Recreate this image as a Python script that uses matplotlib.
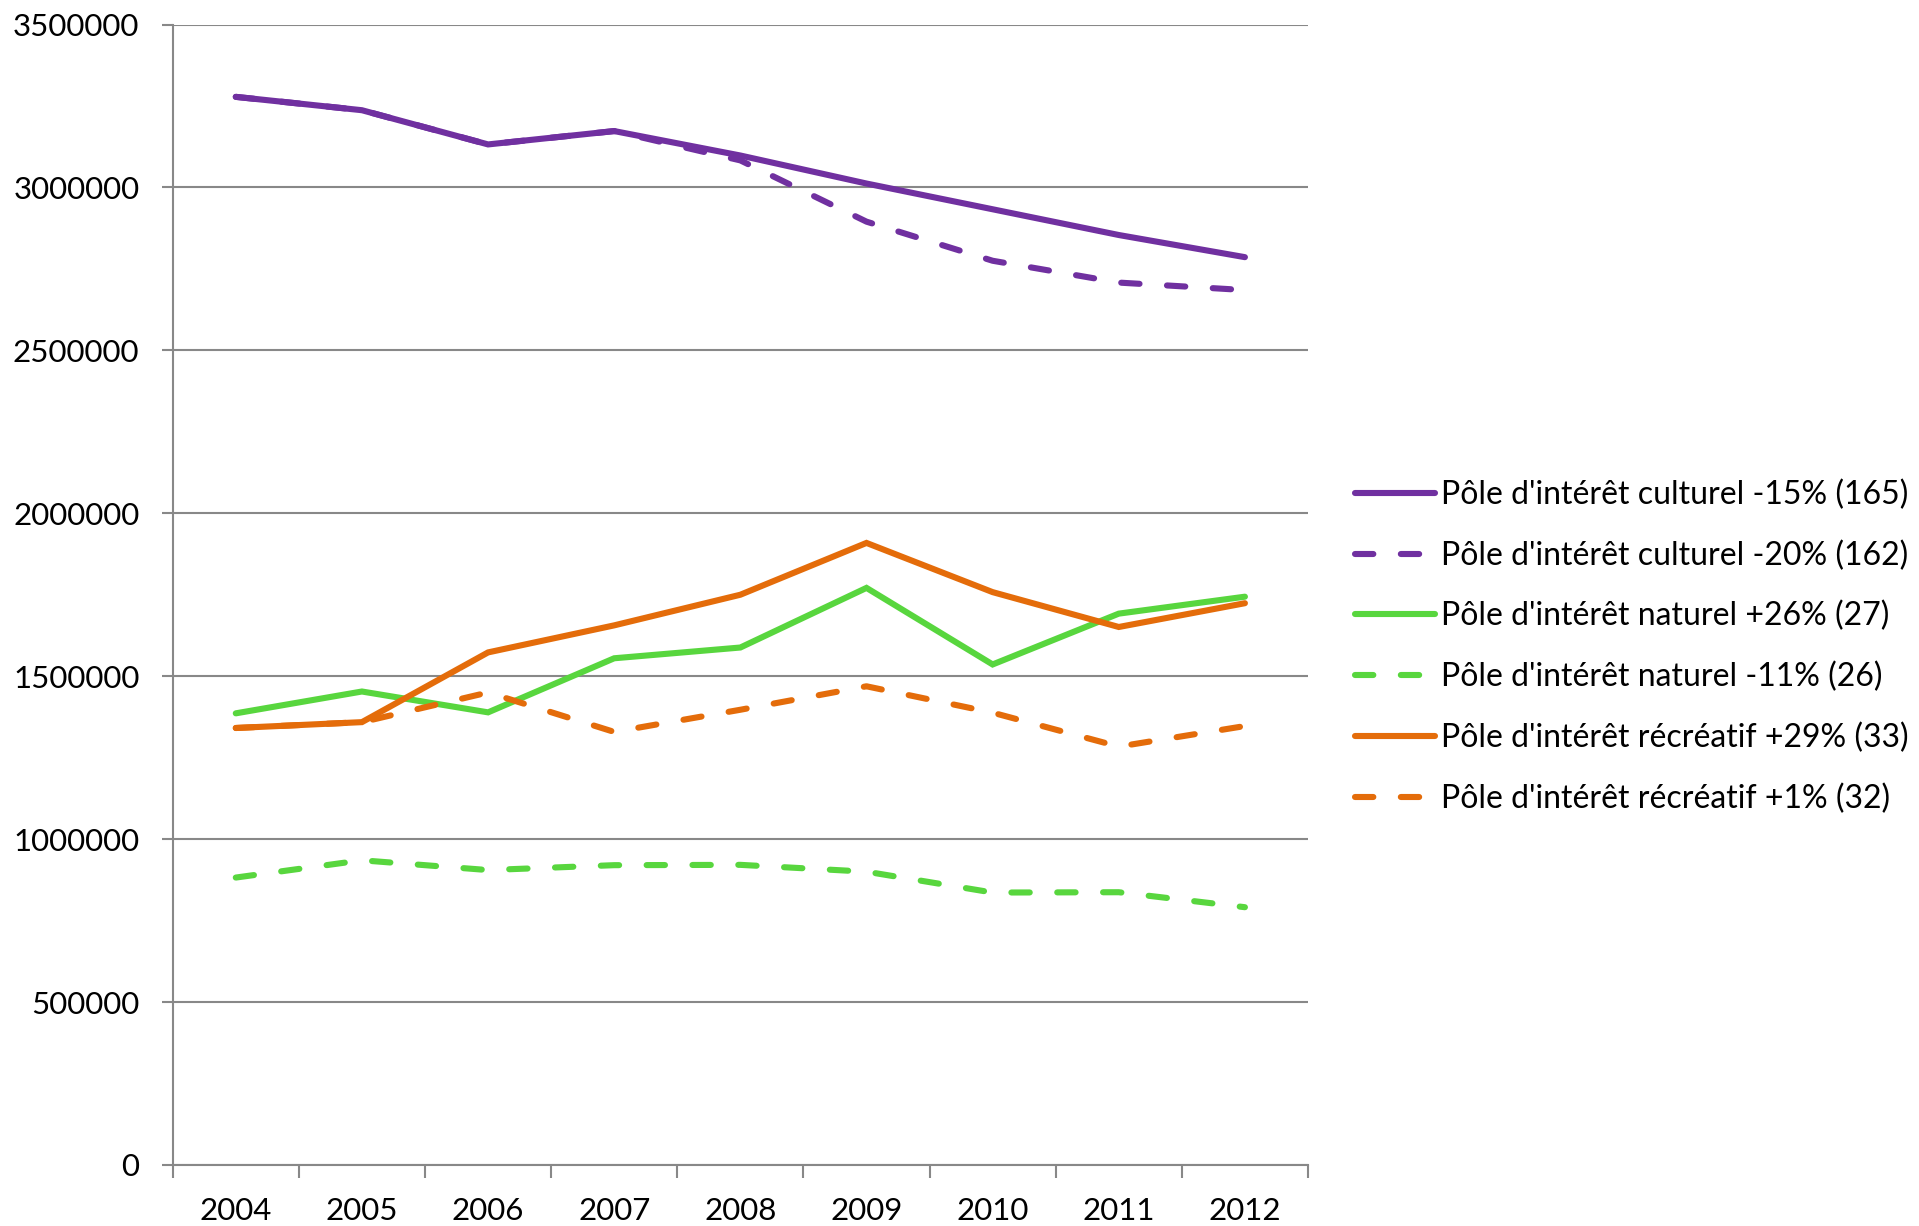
import matplotlib
matplotlib.use("Agg")
import matplotlib.pyplot as plt
from matplotlib.ticker import FixedLocator, NullFormatter

plt.rcParams["font.family"] = ["Lato", "DejaVu Sans"]
plt.rcParams["font.size"] = 22.5

PURPLE = "#7030A0"
GREEN = "#58D63E"
ORANGE = "#E46C0A"
GRID = "#888888"

years = ["2004", "2005", "2006", "2007", "2008", "2009", "2010", "2011", "2012"]

culturel_165 = [3278000, 3237000, 3132000, 3173000, 3098000, 3012000, 2933000, 2854000, 2786000]
culturel_162 = [3278000, 3237000, 3132000, 3173000, 3083000, 2895000, 2775000, 2708000, 2685000]
naturel_27 = [1386000, 1453000, 1389000, 1555000, 1588000, 1771000, 1536000, 1692000, 1744000]
naturel_26 = [882000, 935000, 905000, 920000, 921000, 900000, 836000, 837000, 791000]
recreatif_33 = [1341000, 1359000, 1573000, 1656000, 1750000, 1909000, 1758000, 1651000, 1724000]
recreatif_32 = [1341000, 1359000, 1450000, 1329000, 1397000, 1469000, 1388000, 1284000, 1347000]

series = [
    ("Pôle d'intérêt culturel -15% (165)", culturel_165, PURPLE, "-"),
    ("Pôle d'intérêt culturel -20% (162)", culturel_162, PURPLE, "--"),
    ("Pôle d'intérêt naturel +26% (27)", naturel_27, GREEN, "-"),
    ("Pôle d'intérêt naturel -11% (26)", naturel_26, GREEN, "--"),
    ("Pôle d'intérêt récréatif +29% (33)", recreatif_33, ORANGE, "-"),
    ("Pôle d'intérêt récréatif +1% (32)", recreatif_32, ORANGE, "--"),
]

fig = plt.figure(figsize=(19.19, 12.26), dpi=100)
ax = fig.add_axes([0.090, 0.0498, 0.5916, 0.9302])

x = list(range(len(years)))
for label, values, color, ls in series:
    kw = dict(color=color, lw=4.4, label=label, solid_capstyle="round", solid_joinstyle="miter")
    if ls == "--":
        kw.update(linestyle=(0, (3, 4.5)), dash_capstyle="round")
    ax.plot(x, values, **kw)

ax.set_xlim(-0.5, len(years) - 0.5)
ax.set_ylim(0, 3500000)
ax.set_yticks(range(0, 3500001, 500000))
ax.set_yticklabels([str(v) for v in range(0, 3500001, 500000)])
ax.yaxis.grid(True, color=GRID, lw=1.5)
ax.set_axisbelow(True)

ax.set_xticks(x)
ax.set_xticklabels(years)
ax.xaxis.set_minor_locator(FixedLocator([i - 0.5 for i in range(len(years) + 1)]))
ax.xaxis.set_minor_formatter(NullFormatter())
ax.tick_params(axis="x", which="major", length=0, pad=23)
ax.tick_params(axis="x", which="minor", length=9, width=1.5, color=GRID)
ax.tick_params(axis="y", length=8, width=1.5, color=GRID, pad=16)

for side in ("top", "right"):
    ax.spines[side].set_visible(False)
for side in ("left", "bottom"):
    ax.spines[side].set_color(GRID)
    ax.spines[side].set_linewidth(1.5)

fig.legend(loc="center left", bbox_to_anchor=(0.706, 0.4725), frameon=False,
           prop={"size": 23}, borderpad=0, borderaxespad=0, handlelength=2.5,
           handletextpad=0.2, labelspacing=0.95)

fig.savefig("out.png", dpi=100)
